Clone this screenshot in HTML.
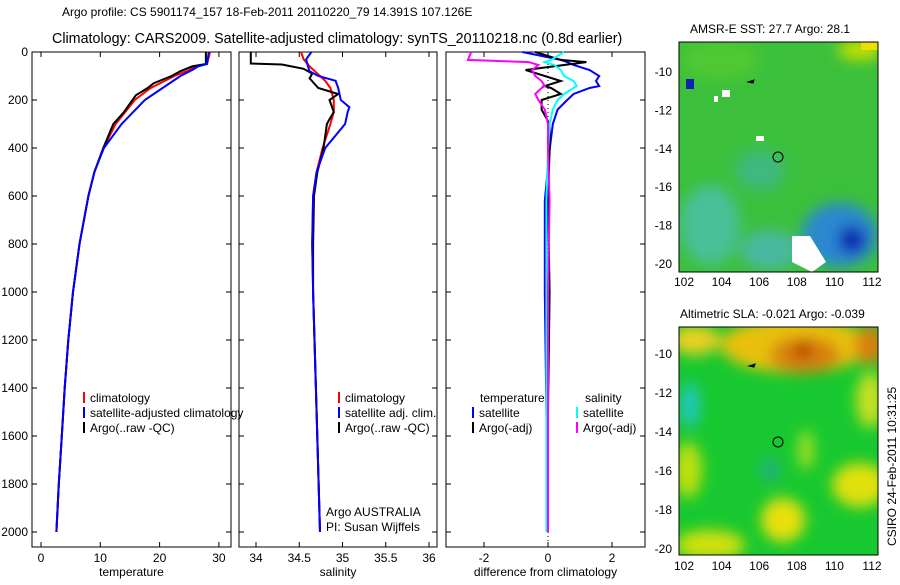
<!DOCTYPE html>
<html><head><meta charset="utf-8"><style>
body{margin:0;background:#fff;width:900px;height:580px;overflow:hidden;font-family:"Liberation Sans",sans-serif}
svg text{font-family:"Liberation Sans",sans-serif;font-size:12px;fill:#000}
</style></head><body>
<svg id="c" width="900" height="580">
<defs>
<filter id="bl" x="-50%" y="-50%" width="200%" height="200%"><feGaussianBlur stdDeviation="7"/></filter>
<clipPath id="m1"><rect x="679" y="42" width="199" height="230"/></clipPath>
<clipPath id="m2"><rect x="679" y="327" width="199" height="228"/></clipPath>
</defs>
<text x="62" y="16">Argo profile: CS 5901174_157 18-Feb-2011 20110220_79 14.391S 107.126E</text>
<text x="52" y="43" style="font-size:14.3px">Climatology: CARS2009. Satellite-adjusted climatology: synTS_20110218.nc (0.8d earlier)</text>
<g id="plots"></g>
<g id="maps">
 <g clip-path="url(#m1)">
  <rect x="679" y="42" width="199" height="230" fill="#3cc03c"/>
  <g filter="url(#bl)">
   <ellipse cx="720" cy="60" rx="40" ry="20" fill="#50c830"/>
   <ellipse cx="710" cy="225" rx="30" ry="40" fill="#48c098"/>
   <ellipse cx="770" cy="250" rx="30" ry="20" fill="#48b8a0"/>
   <ellipse cx="760" cy="170" rx="25" ry="20" fill="#40b880"/>
   <ellipse cx="840" cy="235" rx="38" ry="32" fill="#2a88d0"/>
   <ellipse cx="852" cy="240" rx="14" ry="14" fill="#1020b0"/>
   <ellipse cx="860" cy="50" rx="22" ry="10" fill="#c8e000"/>
  </g>
  <polygon points="792,236 810,236 826,262 812,272 792,262" fill="#fff"/>
  <rect x="686" y="79" width="8" height="10" fill="#1020b0"/>
  <rect x="722" y="90" width="8" height="7" fill="#fff"/>
  <rect x="714" y="96" width="4" height="6" fill="#fff"/>
  <rect x="756" y="136" width="8" height="5" fill="#fff"/>
  <rect x="861" y="42" width="17" height="8" fill="#e8e000"/>
 </g>
 <g clip-path="url(#m2)">
  <rect x="679" y="327" width="199" height="228" fill="#18c830"/>
  <g filter="url(#bl)">
   <ellipse cx="795" cy="345" rx="75" ry="28" fill="#e8c010"/>
   <ellipse cx="805" cy="355" rx="35" ry="18" fill="#d88010"/>
   <ellipse cx="803" cy="350" rx="10" ry="8" fill="#b04000"/>
   <ellipse cx="870" cy="345" rx="15" ry="20" fill="#d88010"/>
   <ellipse cx="695" cy="340" rx="25" ry="15" fill="#e8d020"/>
   <ellipse cx="690" cy="405" rx="10" ry="22" fill="#20c8c0"/>
   <ellipse cx="870" cy="400" rx="14" ry="28" fill="#c8e020"/>
   <ellipse cx="783" cy="520" rx="22" ry="22" fill="#e8e010"/>
   <ellipse cx="860" cy="485" rx="28" ry="22" fill="#e0e010"/>
   <ellipse cx="710" cy="545" rx="35" ry="15" fill="#d0e010"/>
   <ellipse cx="688" cy="470" rx="14" ry="28" fill="#c0e010"/>
   <ellipse cx="770" cy="470" rx="10" ry="12" fill="#20b080"/>
   <ellipse cx="806" cy="450" rx="8" ry="20" fill="#a0e020"/>
  </g>
 </g>
 <rect x="679" y="42" width="199" height="230" fill="none" stroke="#000"/>
 <rect x="679" y="327" width="199" height="228" fill="none" stroke="#000"/>
 <text x="690" y="33">AMSR-E SST: 27.7  Argo: 28.1</text>
 <text x="680" y="318">Altimetric SLA: -0.021  Argo: -0.039</text>
 <text x="896" y="546" transform="rotate(-90 896 546)">CSIRO 24-Feb-2011 10:31:25</text>
</g>
</svg>
<script>
// ---------- data ----------
const tempDepth=[0,50,60,75,100,150,200,300,400,500,600,800,1000,1200,1400,1600,1800,2000];
const tempClim=[28.5,28,26,25,22.5,18.5,15.8,12.6,10.5,9,8,6.5,5.4,4.6,4.0,3.5,3.0,2.6];
const tempSat=[28.3,28,26.5,25.5,23.5,20.5,17.5,13.6,10.6,9,8,6.5,5.4,4.6,4.0,3.5,3.0,2.6];
const argoTDepth=[0,50,60,80,100,130,150,180,250,300,400,500,600,800,1000,1200,1400,1600,1800,2000];
const argoTemp=[27.8,27.8,25.5,23.5,22,19,18,16,14,12.2,10.5,9,8,6.5,5.4,4.6,4.0,3.5,3.0,2.6];
const salDepth=[0,30,60,80,100,120,150,200,230,250,300,400,500,600,800,1000,1500,2000];
const salClim=[34.52,34.55,34.62,34.68,34.74,34.8,34.86,34.9,34.9,34.9,34.86,34.77,34.7,34.66,34.65,34.66,34.7,34.74];
const salSat=[34.64,34.58,34.6,34.62,34.72,34.92,34.95,34.98,35.08,35.06,35.03,34.8,34.7,34.66,34.65,34.66,34.7,34.74];
const argoSDepth=[0,48,52,70,90,110,150,175,200,250,280,300,400,500,600,800,1000,1500,2000];
const argoSal=[33.94,33.94,34.3,34.55,34.65,34.62,34.72,34.95,34.85,34.9,34.85,34.82,34.78,34.71,34.67,34.66,34.66,34.7,34.74];
const dDepth=[0,33,42,54,75,100,121,142,150,175,200,240,300,410,620,1000,1500,2000];
const dTsat=[-0.8,0.4,0.6,0.8,1.3,1.6,1.5,1.6,1.3,0.8,0.6,0.3,0.15,0.05,-0.1,-0.1,-0.05,0];
const dTargo=[-0.4,0.4,1.2,0.5,-0.7,-0.1,0.4,-0.1,0.1,0.4,-0.2,-0.2,0.05,0.05,0,0.05,0,0];
const dSsat=[0.5,0.1,-0.1,0.2,0.4,0.5,0.8,0.9,0.8,0.5,0.3,0.15,0.05,0,-0.05,-0.05,-0.05,-0.05];
const dSargo=[-2.4,-2.5,-0.6,-0.3,-0.5,-0.4,-0.2,-0.1,-0.2,-0.4,-0.3,-0.1,0,0,0.05,0,0,0];
const depthTicks=[0,200,400,600,800,1000,1200,1400,1600,1800,2000];
const tempTicks=[0,10,20,30];
const salTicks=[34,34.5,35,35.5,36];
const diffTicks=[-2,0,2];
const latTicks=[-10,-12,-14,-16,-18,-20];
const lonTicks=[102,104,106,108,110,112];
// ---------- axes ----------
const NS='http://www.w3.org/2000/svg';
const g=document.getElementById('plots');
const yD=d=>52+d*0.24;
const xT=v=>41+v*5.93;
const xS=v=>256+(v-34)*86.5;
const xDf=v=>548+v*32;
function mk(tag,attrs,parent){const e=document.createElementNS(NS,tag);for(const k in attrs)e.setAttribute(k,attrs[k]);(parent||g).appendChild(e);return e;}
function txt(x,y,s,anchor){const t=mk('text',{x:x,y:y,'text-anchor':anchor||'start'});t.textContent=s;return t;}
function line(depths,vals,xf,color,w,name){
  const p=mk('polyline',{points:depths.map((d,i)=>xf(vals[i]).toFixed(1)+','+yD(d).toFixed(1)).join(' '),fill:'none',stroke:color,'stroke-width':w});
  
  
}
function panel(x0,x1,ticks,xf,label,name){
  const r=mk('rect',{x:x0,y:52,width:x1-x0,height:495,fill:'none',stroke:'#000'});
  
  
  ticks.forEach(t=>{const x=xf(t);mk('line',{x1:x,x2:x,y1:52,y2:57,stroke:'#000'});mk('line',{x1:x,x2:x,y1:547,y2:542,stroke:'#000'});
    const tl=txt(x,562,String(t),'middle');});
  depthTicks.forEach(d=>{const y=yD(d);mk('line',{x1:x0,x2:x0+5,y1:y,y2:y,stroke:'#000'});mk('line',{x1:x1,x2:x1-5,y1:y,y2:y,stroke:'#000'});});
  const lb=txt((x0+x1)/2,576,label,'middle');
}
depthTicks.forEach(d=>{const t=txt(28,yD(d)+4,String(d),'end');});
panel(32,231,tempTicks,xT,'temperature','temperature-panel');
panel(239,437,salTicks,xS,'salinity','salinity-panel');
panel(446,645,diffTicks,xDf,'difference from climatology','difference-panel');
latTicks.forEach(l=>{const y1=72+(-10-l)*19.2,y2=354+(-10-l)*19.5;
  mk('line',{x1:878,x2:873,y1:y1,y2:y1,stroke:'#000'});mk('line',{x1:878,x2:873,y1:y2,y2:y2,stroke:'#000'});
  mk('line',{x1:679,x2:684,y1:y1,y2:y1,stroke:'#000'});mk('line',{x1:679,x2:684,y1:y2,y2:y2,stroke:'#000'});
  const a=txt(672,y1+4,String(l),'end');
  const b=txt(672,y2+4,String(l),'end');});
lonTicks.forEach(l=>{const x=684+(l-102)*18.8;
  mk('line',{x1:x,x2:x,y1:272,y2:267,stroke:'#000'});mk('line',{x1:x,x2:x,y1:555,y2:550,stroke:'#000'});
  const a=txt(x,286,String(l),'middle');
  const b=txt(x,570,String(l),'middle');});
mk('line',{x1:548,x2:548,y1:52,y2:547,stroke:'#000','stroke-dasharray':'1,3'});
line(tempDepth,tempClim,xT,'#f00',2,'temp-climatology-line');
line(argoTDepth,argoTemp,xT,'#000',2,'temp-argo-line');
line(tempDepth,tempSat,xT,'#00f',2,'temp-satellite-line');
line(salDepth,salClim,xS,'#f00',2,'sal-climatology-line');
line(argoSDepth,argoSal,xS,'#000',2,'sal-argo-line');
line(salDepth,salSat,xS,'#00f',2,'sal-satellite-line');
line(dDepth,dTsat,xDf,'#00f',2,'diff-temp-satellite-line');
line(dDepth,dTargo,xDf,'#000',2,'diff-temp-argo-line');
line(dDepth,dSsat,xDf,'#0ff',2,'diff-sal-satellite-line');
line(dDepth,dSargo,xDf,'#f0f',2,'diff-sal-argo-line');
function leg(x,y,color,label){mk('line',{x1:x,x2:x,y1:y-10,y2:y+1,stroke:color,'stroke-width':2});
  const t=txt(x+6,y,label);}
leg(84,402,'#f00','climatology');leg(84,417,'#00f','satellite-adjusted climatology');leg(84,432,'#000','Argo(..raw -QC)');
leg(339,402,'#f00','climatology');leg(339,417,'#00f','satellite adj. clim.');leg(339,432,'#000','Argo(..raw -QC)');
let t1=txt(480,402,'temperature');
let t2=txt(585,402,'salinity');
leg(473,417,'#00f','satellite');leg(473,432,'#000','Argo(-adj)');
leg(577,417,'#0ff','satellite');leg(577,432,'#f0f','Argo(-adj)');
let a1=txt(326,516,'Argo AUSTRALIA');
let a2=txt(326,531,'PI: Susan Wijffels');
const mg=document.getElementById('maps');
[[157,'sst'],[442,'sla']].forEach(([cy,n])=>{const c=mk('circle',{cx:778,cy:cy,r:5,fill:'none',stroke:'#000'},mg);
  });
mk('path',{d:'M748 82 l6 -2 l-1 3 z',fill:'#000',stroke:'#000'},mg);
mk('path',{d:'M749 366 l6 -2 l-1 3 z',fill:'#000',stroke:'#000'},mg);
</script>
</body></html>
